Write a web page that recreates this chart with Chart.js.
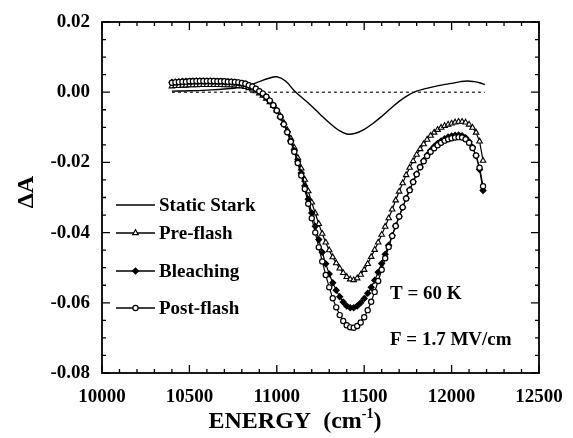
<!DOCTYPE html>
<html>
<head>
<meta charset="utf-8">
<script src="https://cdn.jsdelivr.net/npm/chart.js@4.4.0/dist/chart.umd.min.js"></script>
<style>
  html, body { margin: 0; padding: 0; background: #fff; }
  canvas { display: block; }
</style>
</head>
<body>
<canvas id="grafStark" width="573" height="438"></canvas>
<script>
// Stark spectra at 60 K

const energias = [
  10400, 10420, 10440, 10460, 10480, 10500, 10520, 10540, 10560, 10580,
  10600, 10620, 10640, 10660, 10680, 10700, 10720, 10740, 10760, 10780,
  10800, 10820, 10840, 10860, 10880, 10900, 10920, 10940, 10960, 10980,
  11000, 11020, 11040, 11060, 11080, 11100, 11120, 11140, 11160, 11180,
  11200, 11220, 11240, 11260, 11280, 11300, 11320, 11340, 11360, 11380,
  11400, 11420, 11440, 11460, 11480, 11500, 11520, 11540, 11560, 11580,
  11600, 11620, 11640, 11660, 11680, 11700, 11720, 11740, 11760, 11780,
  11800, 11820, 11840, 11860, 11880, 11900, 11920, 11940, 11960, 11980,
  12000, 12020, 12040, 12060, 12080, 12100, 12120, 12140, 12160, 12180
];

const preFlash = [
  0.0017, 0.0018, 0.0018, 0.0019, 0.0019, 0.0020, 0.0020, 0.0020, 0.0021, 0.0021,
  0.0021, 0.0021, 0.0021, 0.0021, 0.0021, 0.0020, 0.0020, 0.0020, 0.0019, 0.0018,
  0.0017, 0.0015, 0.0012, 0.0008, 0.0003, -0.0003, -0.0010, -0.0018, -0.0028, -0.0039,
  -0.0052, -0.0068, -0.0087, -0.0108, -0.0132, -0.0158, -0.0187, -0.0217, -0.0249, -0.0282,
  -0.0314, -0.0345, -0.0375, -0.0403, -0.0428, -0.0450, -0.0470, -0.0487, -0.0502, -0.0515,
  -0.0526, -0.0533, -0.0535, -0.0530, -0.0520, -0.0506, -0.0489, -0.0469, -0.0449, -0.0428,
  -0.0406, -0.0383, -0.0359, -0.0334, -0.0308, -0.0283, -0.0259, -0.0236, -0.0215, -0.0196,
  -0.0178, -0.0162, -0.0148, -0.0135, -0.0124, -0.0115, -0.0107, -0.0101, -0.0096, -0.0092,
  -0.0089, -0.0086, -0.0084, -0.0084, -0.0086, -0.0092, -0.0101, -0.0115, -0.0140, -0.0195
];

const bleaching = [
  0.0028, 0.0029, 0.0030, 0.0031, 0.0031, 0.0031, 0.0032, 0.0032, 0.0032, 0.0032,
  0.0032, 0.0032, 0.0031, 0.0031, 0.0031, 0.0030, 0.0030, 0.0029, 0.0028, 0.0027,
  0.0025, 0.0023, 0.0019, 0.0015, 0.0009, 0.0002, -0.0005, -0.0014, -0.0025, -0.0038,
  -0.0053, -0.0071, -0.0091, -0.0113, -0.0139, -0.0167, -0.0197, -0.0230, -0.0267, -0.0305,
  -0.0344, -0.0382, -0.0420, -0.0456, -0.0489, -0.0518, -0.0543, -0.0564, -0.0583, -0.0598,
  -0.0609, -0.0614, -0.0614, -0.0609, -0.0600, -0.0588, -0.0573, -0.0556, -0.0536, -0.0513,
  -0.0488, -0.0462, -0.0436, -0.0408, -0.0381, -0.0354, -0.0328, -0.0302, -0.0278, -0.0255,
  -0.0233, -0.0213, -0.0195, -0.0179, -0.0166, -0.0155, -0.0146, -0.0139, -0.0133, -0.0128,
  -0.0125, -0.0123, -0.0122, -0.0124, -0.0130, -0.0141, -0.0157, -0.0181, -0.0220, -0.0280
];

const postFlash = [
  0.0027, 0.0028, 0.0029, 0.0030, 0.0030, 0.0031, 0.0031, 0.0032, 0.0032, 0.0032,
  0.0032, 0.0032, 0.0032, 0.0031, 0.0031, 0.0031, 0.0030, 0.0030, 0.0029, 0.0028,
  0.0026, 0.0024, 0.0020, 0.0016, 0.0010, 0.0003, -0.0004, -0.0013, -0.0024, -0.0037,
  -0.0052, -0.0070, -0.0091, -0.0114, -0.0141, -0.0170, -0.0202, -0.0237, -0.0276, -0.0318,
  -0.0359, -0.0400, -0.0442, -0.0482, -0.0521, -0.0556, -0.0587, -0.0613, -0.0635, -0.0652,
  -0.0664, -0.0670, -0.0671, -0.0666, -0.0656, -0.0641, -0.0621, -0.0597, -0.0569, -0.0538,
  -0.0506, -0.0473, -0.0441, -0.0410, -0.0381, -0.0354, -0.0328, -0.0303, -0.0279, -0.0256,
  -0.0234, -0.0214, -0.0197, -0.0182, -0.0170, -0.0160, -0.0151, -0.0144, -0.0138, -0.0134,
  -0.0131, -0.0129, -0.0128, -0.0129, -0.0134, -0.0144, -0.0159, -0.0180, -0.0215, -0.0268
];

const energiasStark = [
  10400, 10500, 10600, 10700, 10800, 10850, 10900, 10950, 11000, 11050,
  11100, 11150, 11200, 11250, 11300, 11350, 11400, 11450, 11500, 11550,
  11600, 11650, 11700, 11750, 11800, 11850, 11900, 11950, 12000, 12050,
  12090, 12130, 12160, 12190
];

const staticStark = [
  0.0003, 0.0004, 0.0006, 0.0009, 0.0015, 0.0021, 0.0030, 0.0039, 0.0044, 0.0032,
  0.0004, -0.0018, -0.0040, -0.0064, -0.0087, -0.0107, -0.0119, -0.0117, -0.0106, -0.0089,
  -0.0069, -0.0047, -0.0026, -0.0009, 0.0003, 0.0010, 0.0016, 0.0021, 0.0025, 0.0030,
  0.0032, 0.0030, 0.0027, 0.0022
];

const energiasCero = [10400, 12190];
const lineaCero = [0, 0];

const nombresSeries = ["Static Stark", "Pre-flash", "Bleaching", "Post-flash"];
const textoTemp = "T = 60 K";
const textoCampo = "F = 1.7 MV/cm";

const FUENTE = '"Liberation Serif", "Times New Roman", serif';

function puntos(xs, ys) {
  return xs.map((x, i) => ({ x: x, y: ys[i] }));
}

// frame, inward ticks, legend, titles and labels
const marcoPlugin = {
  id: 'marco',
  afterDatasetsDraw(chart) {
    const { ctx, chartArea: a, scales: { x, y } } = chart;
    ctx.save();
    ctx.strokeStyle = '#000';
    ctx.lineWidth = 1.8;
    ctx.strokeRect(a.left, a.top, a.right - a.left, a.bottom - a.top);

    ctx.lineWidth = 1.3;
    ctx.beginPath();
    for (let v = 10000; v <= 12500; v += 100) {
      const px = x.getPixelForValue(v);
      const len = v % 500 === 0 ? 8 : 4;
      ctx.moveTo(px, a.bottom); ctx.lineTo(px, a.bottom - len);
      ctx.moveTo(px, a.top); ctx.lineTo(px, a.top + len);
    }
    for (let k = 0; k <= 20; k++) {
      const v = -0.08 + k * 0.005;
      const py = y.getPixelForValue(v);
      const len = k % 4 === 0 ? 8 : 4;
      ctx.moveTo(a.left, py); ctx.lineTo(a.left + len, py);
      ctx.moveTo(a.right, py); ctx.lineTo(a.right - len, py);
    }
    ctx.stroke();

    // legend
    const legendY = [205, 233, 271, 308];
    const dsOrden = [1, 2, 3, 4];
    ctx.font = 'bold 19px ' + FUENTE;
    ctx.textBaseline = 'middle';
    ctx.textAlign = 'left';
    dsOrden.forEach((di, i) => {
      const ds = chart.data.datasets[di];
      const ly = legendY[i];
      ctx.strokeStyle = '#000';
      ctx.lineWidth = 1.3;
      ctx.setLineDash([]);
      ctx.beginPath();
      ctx.moveTo(116, ly); ctx.lineTo(155, ly);
      ctx.stroke();
      if (ds.pointRadius > 0) {
        ctx.fillStyle = ds.pointBackgroundColor;
        ctx.strokeStyle = '#000';
        ctx.lineWidth = 1.2;
        Chart.helpers.drawPoint(ctx, {
          pointStyle: ds.pointStyle, radius: ds.pointRadius, rotation: 0, borderWidth: 1.2
        }, 135.5, ly);
      }
      ctx.fillStyle = '#000';
      ctx.fillText(nombresSeries[i], 159, ly + 1);
    });

    // annotations
    ctx.fillText(textoTemp, 390, 294);
    ctx.fillText(textoCampo, 390, 340);

    // x title with superscript
    ctx.textBaseline = 'alphabetic';
    const base = 'ENERGY  (cm';
    const sup = '-1';
    const cierre = ')';
    ctx.font = 'bold 24px ' + FUENTE;
    const w1 = ctx.measureText(base).width;
    const w3 = ctx.measureText(cierre).width;
    ctx.font = 'bold 14px ' + FUENTE;
    const w2 = ctx.measureText(sup).width;
    let tx = 295 - (w1 + w2 + w3) / 2;
    const ty = 428;
    ctx.font = 'bold 24px ' + FUENTE;
    ctx.fillText(base, tx, ty);
    tx += w1;
    ctx.font = 'bold 14px ' + FUENTE;
    ctx.fillText(sup, tx, ty - 10);
    tx += w2;
    ctx.font = 'bold 24px ' + FUENTE;
    ctx.fillText(cierre, tx, ty);

    // y title
    ctx.save();
    ctx.translate(27, 192);
    ctx.rotate(-Math.PI / 2);
    ctx.textAlign = 'center';
    ctx.textBaseline = 'middle';
    ctx.font = 'bold 24px ' + FUENTE;
    ctx.fillText('\u0394A', 0, 0);
    ctx.restore();

    ctx.restore();
  }
};

const ctxS = document.getElementById('grafStark').getContext('2d');
new Chart(ctxS, {
  type: 'scatter',
  data: {
    datasets: [
      {
        label: 'zero', data: puntos(energiasCero, lineaCero), showLine: true,
        borderColor: '#000', borderWidth: 1.1, borderDash: [3, 3], pointRadius: 0, order: 5
      },
      {
        label: nombresSeries[0], data: puntos(energiasStark, staticStark), showLine: true,
        borderColor: '#000', borderWidth: 1.4, pointRadius: 0, tension: 0.4, order: 4
      },
      {
        label: nombresSeries[1], data: puntos(energias, preFlash), showLine: true,
        borderColor: '#000', borderWidth: 1.2, pointStyle: 'triangle', pointRadius: 3.2,
        pointBackgroundColor: '#fff', pointBorderColor: '#000', pointBorderWidth: 1.1, order: 3
      },
      {
        label: nombresSeries[2], data: puntos(energias, bleaching), showLine: true,
        borderColor: '#000', borderWidth: 1.2, pointStyle: 'rectRot', pointRadius: 3,
        pointBackgroundColor: '#000', pointBorderColor: '#000', pointBorderWidth: 1.1, order: 2
      },
      {
        label: nombresSeries[3], data: puntos(energias, postFlash), showLine: true,
        borderColor: '#000', borderWidth: 1.2, pointStyle: 'circle', pointRadius: 2.6,
        pointBackgroundColor: '#fff', pointBorderColor: '#000', pointBorderWidth: 1.2, order: 1
      }
    ]
  },
  options: {
    responsive: false,
    animation: false,
    events: [],
    layout: { padding: { left: 0, top: 22, right: 34, bottom: 0 } },
    plugins: { legend: { display: false }, tooltip: { enabled: false } },
    scales: {
      x: {
        type: 'linear', min: 10000, max: 12500,
        grid: { display: false, drawTicks: false }, border: { display: false },
        ticks: {
          stepSize: 500, padding: 13, color: '#000', maxRotation: 0,
          font: { family: FUENTE, size: 19, weight: 'bold' },
          callback: v => String(v)
        },
        afterFit(scale) { scale.height = 65; scale.paddingLeft = 0; scale.paddingRight = 0; }
      },
      y: {
        type: 'linear', min: -0.08, max: 0.02,
        grid: { display: false, drawTicks: false }, border: { display: false },
        ticks: {
          stepSize: 0.02, padding: 12, color: '#000',
          font: { family: FUENTE, size: 19, weight: 'bold' },
          callback: v => (Math.abs(v) < 1e-9 ? 0 : v).toFixed(2)
        },
        afterFit(scale) { scale.width = 102; scale.paddingTop = 0; scale.paddingBottom = 0; }
      }
    }
  },
  plugins: [marcoPlugin]
});
</script>
</body>
</html>
